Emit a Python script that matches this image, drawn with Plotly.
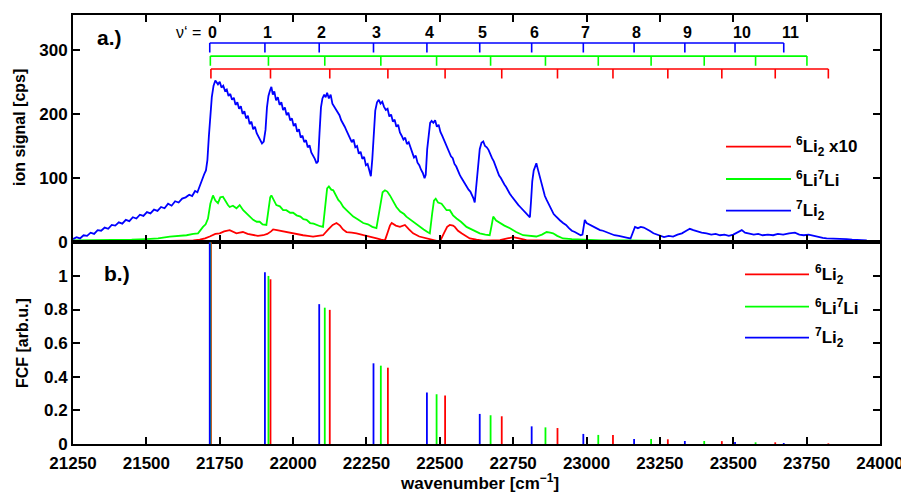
import plotly.graph_objects as go

# ---------------- data ----------------
# (a) ion signal spectra  (wavenumber, counts)
li7_wn = [21250, 21262, 21274, 21286, 21298, 21310, 21322, 21334, 21346, 21358, 21370, 21382, 21394, 21406,
          21418, 21430, 21442, 21454, 21466, 21478, 21490, 21502, 21514, 21526, 21538, 21550, 21562, 21574,
          21586, 21598, 21610, 21622, 21634, 21646, 21656, 21666, 21674, 21682, 21690, 21697, 21703, 21708,
          21713, 21718, 21723, 21729, 21735,
          21744, 21750, 21756, 21762, 21768, 21774, 21780, 21786, 21792, 21798, 21804, 21810, 21816, 21822,
          21828, 21834, 21840, 21846, 21852, 21858, 21864, 21870, 21876, 21882, 21888, 21894, 21900,
          21906, 21911, 21916, 21921, 21926, 21931, 21936, 21942, 21948, 21954, 21960, 21966, 21972, 21978,
          21984, 21990, 21996, 22002, 22008, 22014, 22020, 22026, 22032, 22038, 22044, 22050, 22056, 22062,
          22068, 22074, 22080, 22085,
          22090, 22095, 22100, 22106, 22111, 22116, 22122, 22128, 22134, 22140, 22146, 22152, 22158, 22164,
          22170, 22176, 22182, 22188, 22194, 22200, 22206, 22212, 22218, 22224, 22230, 22236, 22242, 22248,
          22254, 22260, 22265,
          22270, 22275, 22280, 22286, 22292, 22298, 22304, 22310, 22316, 22322, 22328, 22334, 22340, 22346,
          22352, 22358, 22364, 22370, 22376, 22382, 22388, 22394, 22400, 22406, 22412, 22418, 22424, 22430,
          22436, 22442, 22448, 22452,
          22457, 22462, 22467, 22472, 22478, 22484, 22490, 22496, 22502, 22508, 22514, 22520, 22526, 22532,
          22538, 22544, 22550, 22556, 22562, 22568, 22574, 22580, 22586, 22592, 22598, 22604, 22610, 22615,
          22619,
          22624, 22630, 22636, 22642, 22648, 22654, 22660, 22666, 22672, 22678, 22684, 22690, 22696, 22702,
          22708, 22714, 22720, 22726, 22732, 22738, 22744, 22750, 22756, 22762, 22768, 22774, 22780, 22786,
          22792, 22798, 22804, 22807,
          22811, 22815, 22820, 22825, 22829, 22834, 22840, 22846, 22852, 22858, 22864, 22870, 22876, 22882,
          22888, 22894, 22900, 22910, 22920, 22930, 22940, 22950, 22960, 22970, 22980, 22986,
          22990, 22994, 23000, 23008, 23016, 23026, 23036, 23046, 23056, 23066, 23080, 23095, 23110, 23125,
          23140, 23150, 23158, 23165, 23175, 23185, 23195, 23205, 23215, 23228, 23240, 23252, 23264, 23280,
          23295, 23310, 23325, 23340, 23352, 23364, 23378, 23392, 23409, 23425, 23440, 23455, 23470, 23485,
          23500, 23515, 23529, 23540, 23555, 23570, 23585, 23600, 23618, 23636, 23652, 23670, 23690, 23710,
          23725, 23740, 23757, 23773, 23790, 23805, 23818, 23835, 23850, 23868, 23886, 23905, 23920, 23938,
          23955]
li7_sig = [5, 8, 6, 11, 10, 15, 13, 19, 18, 23, 21, 27, 26, 31,
           29, 35, 33, 39, 37, 43, 41, 47, 45, 51, 49, 55, 53, 60,
           57, 64, 62, 68, 70, 74, 72, 80, 78, 88, 100, 106, 112, 128,
           165, 198, 226, 244, 252,
           246, 250, 241, 244, 236, 238, 228, 231, 222, 225, 214, 218, 208, 212,
           200, 204, 193, 197, 184, 188, 176, 180, 170, 165, 158, 154, 157,
           175, 210, 228, 236, 242, 230, 235, 221, 226, 214, 218, 206, 210, 198,
           202, 190, 193, 181, 185, 172, 176, 163, 166, 156, 159, 148, 151, 140,
           136, 130, 123, 126,
           170, 210, 224, 230, 226, 233, 224, 230, 216, 212, 208, 202, 198, 190,
           186, 180, 174, 168, 164, 156, 160, 148, 150, 138, 141, 130, 133, 120,
           122, 110, 103,
           130, 175, 205, 218, 222, 216, 219, 211, 206, 208, 196, 199, 188, 191,
           180, 183, 171, 166, 160, 163, 153, 156, 146, 140, 132, 135, 124, 120,
           113, 108, 100, 105,
           145, 170, 186, 189, 186, 190, 180, 183, 172, 166, 160, 152, 146, 140,
           134, 131, 122, 118, 110, 105, 100, 95, 92, 86, 82, 79, 74, 68,
           62,
           90, 125, 145, 155, 157, 150, 148, 144, 136, 131, 126, 118, 112, 104,
           100, 94, 90, 86, 80, 76, 72, 68, 64, 61, 58, 55, 52, 50,
           47, 44, 40, 39,
           65, 95, 112, 120, 123, 114, 104, 90, 82, 72, 66, 60, 54, 48,
           44, 41, 38, 34, 30, 27, 22, 18, 16, 14, 11, 12,
           25, 35, 30, 28, 26, 24, 21, 19, 18, 16, 13, 11, 10, 8,
           7, 6, 15, 24, 22, 24, 23, 21, 18, 14, 12, 10, 8, 10,
           9, 12, 14, 18, 21, 19, 17, 15, 14, 12, 13, 11, 12, 10,
           12, 16, 19, 15, 14, 12, 13, 11, 12, 11, 13, 12, 14, 15,
           12, 11, 12, 10, 8, 7, 6, 6, 5, 5, 5, 4, 4, 3,
           3]

li67_wn = [21250, 21300, 21350, 21400, 21450, 21500, 21540, 21580, 21610, 21637, 21660, 21676, 21693, 21702,
           21710, 21718, 21727, 21735, 21744, 21752, 21761, 21770, 21778, 21784, 21795, 21807, 21818, 21830,
           21842, 21852, 21864, 21876, 21886, 21896, 21909, 21916, 21922, 21926, 21935, 21943, 21955, 21966,
           21977, 21990, 22000, 22012, 22025, 22035, 22046, 22058, 22070, 22080, 22092, 22102, 22110, 22116,
           22122, 22130, 22137, 22146, 22154, 22162, 22171, 22182, 22194, 22205, 22220, 22239, 22255, 22270,
           22284, 22295, 22305, 22313, 22321, 22330, 22340, 22352, 22365, 22378, 22386, 22400, 22415, 22432,
           22445, 22458, 22466, 22474, 22480, 22486, 22494, 22506, 22514, 22523, 22534, 22545, 22557, 22572,
           22591, 22610, 22636, 22655, 22670, 22676, 22682, 22692, 22705, 22720, 22739, 22760, 22784, 22805,
           22829, 22848, 22864, 22876, 22886, 22900, 22920, 22950, 22989, 23050, 23150, 23250, 23400, 23550,
           23700, 23800]
li67_sig = [3, 3, 4, 4, 4, 5, 6, 9, 10, 11, 13, 14, 24, 28,
            37, 60, 73, 65, 61, 70, 71, 63, 58, 55, 57, 53, 58, 50,
            45, 40, 35, 32, 32, 28, 27, 50, 70, 73, 64, 58, 56, 50,
            50, 46, 46, 42, 40, 36, 35, 30, 29, 27, 25, 24, 60, 84,
            87, 82, 81, 72, 66, 62, 55, 50, 45, 40, 36, 30, 28, 24,
            22, 50, 78, 81, 79, 73, 64, 55, 48, 44, 40, 35, 30, 24,
            20, 16, 14, 45, 65, 68, 62, 60, 55, 50, 50, 42, 37, 32,
            24, 20, 14, 12, 11, 25, 40, 34, 30, 26, 22, 16, 11, 10,
            9, 12, 16, 15, 14, 10, 6, 5, 4, 3, 3, 2, 2, 2,
            2, 2]

li6_wn = [21580, 21620, 21660, 21682, 21700, 21716, 21735, 21750, 21765, 21784, 21795, 21807, 21818, 21829,
          21845, 21864, 21880, 21898, 21912, 21925, 21932, 21945, 21955, 21966, 21980, 22000, 22017, 22034,
          22050, 22068, 22085, 22102, 22120, 22135, 22148, 22160, 22170, 22182, 22200, 22216, 22240, 22261,
          22285, 22300, 22313, 22322, 22330, 22336, 22350, 22364, 22372, 22381, 22395, 22409, 22430, 22455,
          22480, 22500, 22515, 22525, 22534, 22545, 22551, 22562, 22574, 22590, 22602, 22625, 22648, 22680,
          22705, 22730, 22750, 22770, 22795, 22830, 22875, 22950, 23100, 23300, 23500, 23700, 23820]
li6_sig = [2, 2, 3, 4, 6, 9, 13, 14, 17, 19, 16, 14, 15, 16,
           13, 11, 10, 11, 13, 17, 20, 19, 18, 17, 16, 14, 12, 11,
           10, 9, 10, 11, 20, 27, 30, 26, 20, 16, 15, 14, 11, 9,
           6, 4, 3, 15, 26, 30, 26, 24, 26, 27, 20, 14, 9, 6,
           3, 1, 15, 24, 27, 26, 24, 18, 14, 9, 6, 4, 2.5, 3,
           3.5, 6, 8, 6, 3.5, 3, 2.5, 2, 1.5, 1.5, 1.5, 1, 1]

# vibrational progressions v' = 0..11 (band origins, cm^-1)
v_labels = ["0", "1", "2", "3", "4", "5", "6", "7", "8", "9", "10", "11"]
pos_li7 = [21716, 21904, 22089, 22274, 22456, 22636, 22813, 22989, 23162, 23335, 23506, 23672]
pos_li67 = [21718, 21916, 22108, 22299, 22489, 22673, 22860, 23040, 23220, 23401, 23576, 23751]
pos_li6 = [21720, 21923, 22125, 22323, 22518, 22711, 22901, 23090, 23277, 23461, 23643, 23824]

# (b) Franck-Condon factors
fcf_li7 = [1.2, 1.022, 0.832, 0.48, 0.307, 0.179, 0.105, 0.06, 0.03, 0.018, 0.012, 0.006]
fcf_li67 = [1.2, 1.0, 0.811, 0.466, 0.296, 0.171, 0.099, 0.054, 0.03, 0.018, 0.01, 0.006]
fcf_li6 = [1.2, 0.98, 0.798, 0.454, 0.288, 0.165, 0.095, 0.054, 0.028, 0.017, 0.01, 0.004]

x_ticks = [21250, 21500, 21750, 22000, 22250, 22500, 22750, 23000, 23250, 23500, 23750, 24000]

# ---------------- style ----------------
RED, GREEN, BLUE = "#FF0000", "#00FF00", "#0000FF"
FONT = "Liberation Sans, Arial, Helvetica, sans-serif"

# the page body has an 8px margin; figure is sized/offset to compensate
OFF = 8
L, R, T, B = 65, 29, 7, 49
W, H = 901, 485
PW, PH = W - L - R, H - T - B


def px2x(px):
    return (px - OFF - L) / PW


def py2y(py):
    return (H - B - (py - OFF)) / PH


fig = go.Figure()

# spectra (top panel)
for wn, sig, col in [(li6_wn, li6_sig, RED), (li67_wn, li67_sig, GREEN), (li7_wn, li7_sig, BLUE)]:
    fig.add_trace(go.Scatter(x=wn, y=sig, mode="lines", line=dict(color=col, width=1.8),
                             xaxis="x", yaxis="y", showlegend=False, hoverinfo="skip"))


def ladder(pos, ytop, tick):
    xs = [pos[0], pos[-1], None]
    ys = [ytop, ytop, None]
    for p in pos:
        xs += [p, p, None]
        ys += [ytop, ytop - tick, None]
    return xs, ys


for pos, ytop, col in [(pos_li7, 310.5, BLUE), (pos_li67, 290, GREEN), (pos_li6, 270, RED)]:
    xs, ys = ladder(pos, ytop, 15)
    fig.add_trace(go.Scatter(x=xs, y=ys, mode="lines", line=dict(color=col, width=1.6),
                             xaxis="x", yaxis="y", showlegend=False, hoverinfo="skip"))

# FCF sticks (bottom panel)
for pos, fcf, col in [(pos_li6, fcf_li6, RED), (pos_li67, fcf_li67, GREEN), (pos_li7, fcf_li7, BLUE)]:
    xs, ys = [], []
    for p, f in zip(pos, fcf):
        xs += [p, p, None]
        ys += [0, f, None]
    fig.add_trace(go.Scatter(x=xs, y=ys, mode="lines", line=dict(color=col, width=1.8),
                             xaxis="x2", yaxis="y2", showlegend=False, hoverinfo="skip"))

bold = lambda s: dict(family=FONT, size=s, color="black", weight="bold")

annotations = []
# v' labels
for p, lab in zip(pos_li7, v_labels):
    annotations.append(dict(x=p, y=326, xref="x", yref="y", text=lab, showarrow=False,
                            xanchor="left", yanchor="middle", xshift=-4, font=bold(16)))
annotations.append(dict(x=21692, y=326, xref="x", yref="y", text="\u03bd\u2018 =", showarrow=False,
                        xanchor="right", yanchor="middle",
                        font=dict(family=FONT, size=16, color="black")))

# panel labels
annotations.append(dict(x=px2x(95), y=py2y(37), xref="paper", yref="paper", text="a.)", showarrow=False,
                        xanchor="left", yanchor="middle", font=bold(21)))
annotations.append(dict(x=px2x(102), y=py2y(273), xref="paper", yref="paper", text="b.)", showarrow=False,
                        xanchor="left", yanchor="middle", font=bold(21)))

# axis titles
annotations.append(dict(x=px2x(20), y=py2y(128), xref="paper", yref="paper", text="ion signal [cps]",
                        showarrow=False, textangle=-90, xanchor="center", yanchor="middle", font=bold(16)))
annotations.append(dict(x=px2x(22), y=py2y(343), xref="paper", yref="paper", text="FCF [arb.u.]",
                        showarrow=False, textangle=-90, xanchor="center", yanchor="middle", font=bold(16)))
annotations.append(dict(x=px2x(479), y=py2y(482), xref="paper", yref="paper",
                        text="wavenumber [cm<sup>\u22121</sup>]",
                        showarrow=False, xanchor="center", yanchor="middle", font=bold(17)))

shapes = []
# legends (drawn manually)
leg_top = [(146.7, RED, "<sup>6</sup>Li<sub>2</sub> x10"),
           (179.0, GREEN, "<sup>6</sup>Li<sup>7</sup>Li"),
           (210.7, BLUE, "<sup>7</sup>Li<sub>2</sub>")]
for py, col, txt in leg_top:
    shapes.append(dict(type="line", xref="paper", yref="paper", x0=px2x(726), x1=px2x(791),
                       y0=py2y(py), y1=py2y(py), line=dict(color=col, width=1.8)))
    annotations.append(dict(x=px2x(794), y=py2y(py), xref="paper", yref="paper", text=txt,
                            showarrow=False, xanchor="left", yanchor="middle", font=bold(17)))

leg_bot = [(274.3, RED, "<sup>6</sup>Li<sub>2</sub>"),
           (306.7, GREEN, "<sup>6</sup>Li<sup>7</sup>Li"),
           (337.7, BLUE, "<sup>7</sup>Li<sub>2</sub>")]
for py, col, txt in leg_bot:
    shapes.append(dict(type="line", xref="paper", yref="paper", x0=px2x(745), x1=px2x(809),
                       y0=py2y(py), y1=py2y(py), line=dict(color=col, width=1.8)))
    annotations.append(dict(x=px2x(813), y=py2y(py), xref="paper", yref="paper", text=txt,
                            showarrow=False, xanchor="left", yanchor="middle", font=bold(17)))

split = py2y(242.3)

axis_common = dict(showline=True, linecolor="black", linewidth=2, mirror="ticks",
                   ticks="inside", ticklen=7, tickwidth=1.5, tickcolor="black",
                   showgrid=False, zeroline=False, automargin=False,
                   tickfont=bold(17))

fig.update_layout(
    width=W, height=H,
    margin=dict(l=L, r=R, t=T, b=B, autoexpand=False),
    paper_bgcolor="white", plot_bgcolor="white",
    showlegend=False,
    xaxis=dict(domain=[0, 1], anchor="y", range=[21250, 24000], tickvals=x_ticks,
               showticklabels=False, matches="x2", **axis_common),
    yaxis=dict(domain=[split, 1], anchor="x", range=[0, 354], tickvals=[0, 100, 200, 300],
               **axis_common),
    xaxis2=dict(domain=[0, 1], anchor="y2", range=[21250, 24000], tickvals=x_ticks,
                ticktext=[str(v) for v in x_ticks], ticklabelstandoff=3, **axis_common),
    yaxis2=dict(domain=[0, split], anchor="x2", range=[0, 1.2],
                tickvals=[0, 0.2, 0.4, 0.6, 0.8, 1.0], ticktext=["0", "0.2", "0.4", "0.6", "0.8", "1"],
                **axis_common),
    annotations=annotations,
    shapes=shapes,
)

fig.write_html("out.html")
